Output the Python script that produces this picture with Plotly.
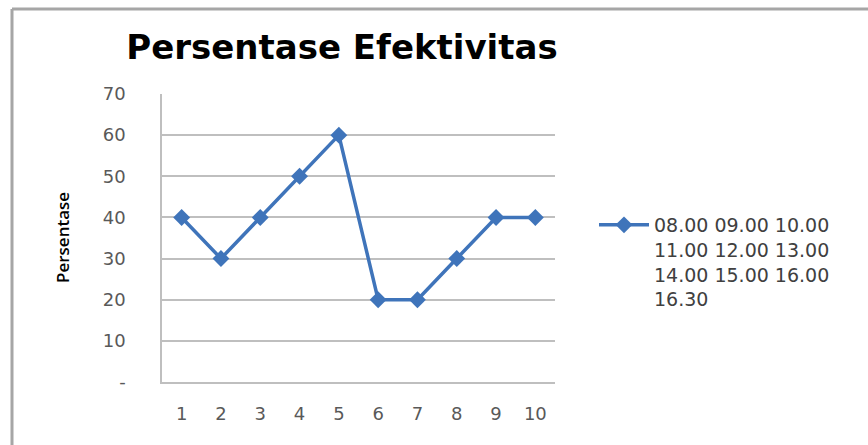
import plotly.graph_objects as go

x_vals = [1, 2, 3, 4, 5, 6, 7, 8, 9, 10]
y_vals = [40, 30, 40, 50, 60, 20, 20, 30, 40, 40]
series_name = "08.00 09.00 10.00<br>11.00 12.00 13.00<br>14.00 15.00 16.00<br>16.30"
y_tickvals = [0, 10, 20, 30, 40, 50, 60, 70]
y_ticktext = ["-", "10", "20", "30", "40", "50", "60", "70"]
title_text = "Persentase Efektivitas"
y_title = "Persentase"

W, H = 868, 445
L, R, T, B = 162, 313, 94, 63
pw, ph = W - L - R, H - T - B

def px_x(p):
    return (p - L) / pw

def px_y(p):
    return (H - B - p) / ph

color = "#3F74BA"
fig = go.Figure()
fig.add_trace(go.Scatter(
    x=x_vals, y=y_vals, name=series_name, mode="lines+markers",
    line=dict(color=color, width=3.5),
    marker=dict(symbol="diamond", size=13, color=color),
))

fig.update_layout(
    width=W, height=H,
    margin=dict(l=L, r=R, t=T, b=B),
    paper_bgcolor="white", plot_bgcolor="white",
    font=dict(family="DejaVu Sans", color="#595959", size=17),
    title=dict(text="<b>" + title_text + "</b>", x=px_x(342), xref="paper", xanchor="center",
               y=1 - 47 / H, yanchor="middle",
               font=dict(family="DejaVu Sans", size=34, color="#000000")),
    showlegend=True,
    legend=dict(x=px_x(594), y=px_y(206), xanchor="left", yanchor="top",
                valign="top", font=dict(family="DejaVu Sans", size=19, color="#404040"),
                bgcolor="rgba(0,0,0,0)", itemwidth=50, tracegroupgap=0),
    xaxis=dict(range=[0.5, 10.5], tickvals=x_vals, ticktext=[str(v) for v in x_vals],
               showgrid=False, zeroline=False, showline=True, linecolor="#BFBFBF", linewidth=1.5,
               ticks="", ticklabelstandoff=15, tickfont=dict(size=18, color="#595959")),
    yaxis=dict(range=[0, 70], tickvals=y_tickvals, ticktext=y_ticktext,
               showgrid=True, gridcolor="#BFBFBF", gridwidth=1.5, zeroline=False,
               showline=True, linecolor="#BFBFBF", linewidth=1.5,
               ticks="", ticklabelstandoff=31, tickfont=dict(size=18, color="#595959")),
)

fig.add_annotation(text=y_title, xref="paper", yref="paper", x=px_x(62), y=px_y(238),
                   textangle=-90, showarrow=False, xanchor="center", yanchor="middle",
                   font=dict(family="Open Sans", size=17, color="#000000", weight=600))

# outer frame (left and top edges visible)
fig.add_shape(type="line", xref="paper", yref="paper",
              x0=px_x(12), x1=px_x(12), y0=px_y(9), y1=px_y(460),
              line=dict(color="#A6A6A6", width=3))
fig.add_shape(type="line", xref="paper", yref="paper",
              x0=px_x(12), x1=px_x(880), y0=px_y(9), y1=px_y(9),
              line=dict(color="#A6A6A6", width=3))

fig.write_html("out.html")
